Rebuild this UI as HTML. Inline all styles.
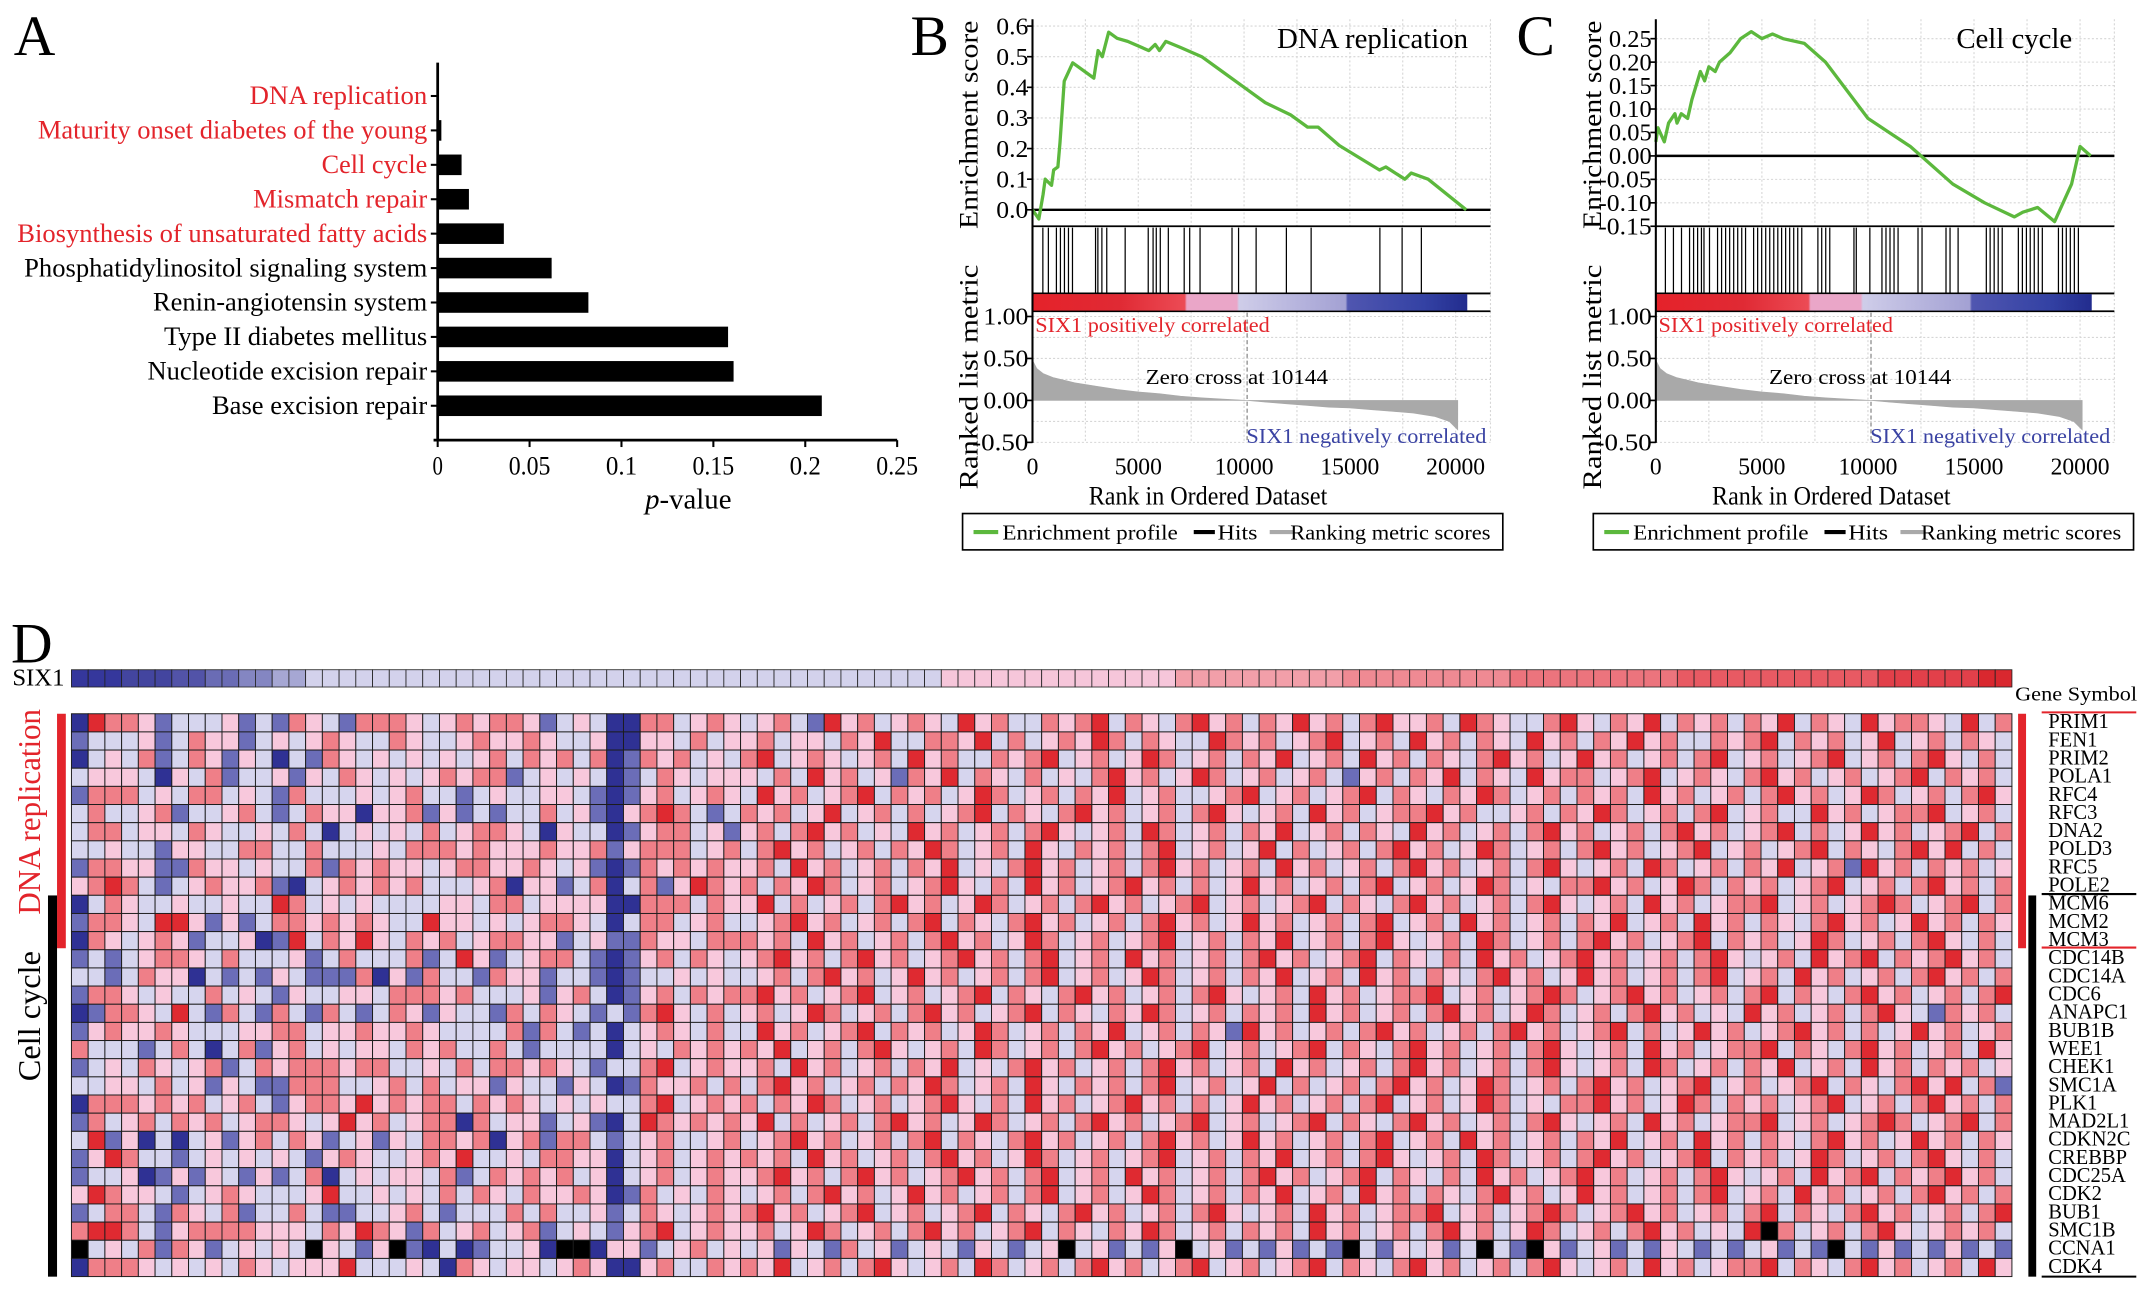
<!DOCTYPE html>
<html><head><meta charset="utf-8"><title>SIX1 GSEA figure</title>
<style>html,body{margin:0;padding:0;background:#fff;}svg{display:block;}text{font-family:"Liberation Serif",serif;}</style>
</head><body>
<svg id="fig" xmlns="http://www.w3.org/2000/svg" width="2150" height="1289" viewBox="0 0 1568 940" preserveAspectRatio="none">
<defs>
<linearGradient id="cbar" x1="0" x2="1" y1="0" y2="0">
<stop offset="0" stop-color="#e5222a"/><stop offset="0.2" stop-color="#e02a34"/><stop offset="0.35" stop-color="#ec4b55"/>
<stop offset="0.355" stop-color="#eaa6c8"/><stop offset="0.47" stop-color="#eaa6c8"/><stop offset="0.475" stop-color="#cfcde9"/>
<stop offset="0.6" stop-color="#b8b6de"/><stop offset="0.72" stop-color="#a3a1d3"/><stop offset="0.725" stop-color="#5056b0"/>
<stop offset="0.9" stop-color="#3442a4"/><stop offset="1" stop-color="#222c8e"/>
</linearGradient>
</defs>
</svg>
<script>
// ---------- Panel A data ----------
const aCategories=["DNA replication","Maturity onset diabetes of the young","Cell cycle","Mismatch repair","Biosynthesis of unsaturated fatty acids","Phosphatidylinositol signaling system","Renin-angiotensin system","Type II diabetes mellitus","Nucleotide excision repair","Base excision repair"];
const aValues=[0.0003,0.002,0.013,0.017,0.036,0.062,0.082,0.158,0.161,0.209];
const aHighlighted=[true,true,true,true,true,false,false,false,false,false];
const aTicks=[0,0.05,0.1,0.15,0.2,0.25];
const aTickLabels=["0","0.05","0.1","0.15","0.2","0.25"];
// ---------- Panel B data ----------
const bRanks=[0,300,500,600,900,1000,1200,1300,1500,1700,1900,2900,3100,3300,3600,4000,4500,5500,5800,6000,6300,7000,8000,9000,10000,11000,12200,13000,13500,14500,16400,16700,17600,17900,18700,20500];
const bES=[0,-0.03,0.05,0.1,0.08,0.13,0.14,0.22,0.42,0.45,0.48,0.43,0.52,0.5,0.58,0.56,0.55,0.52,0.54,0.52,0.55,0.53,0.5,0.45,0.4,0.35,0.31,0.27,0.27,0.21,0.13,0.14,0.1,0.12,0.1,0.0];
const bHits=[490,750,1130,1320,1510,1700,1890,2980,3090,3280,3510,4380,5470,5700,5850,6040,6420,7170,7430,7920,9430,9740,10570,12000,13170,16420,17470,18380];
const bESTicks=[0,0.1,0.2,0.3,0.4,0.5,0.6];
const bESTickLabels=["0.0","0.1","0.2","0.3","0.4","0.5","0.6"];
// ---------- Panel C data ----------
const cRanks=[0,100,400,600,900,1000,1200,1500,1700,2100,2300,2500,2800,3000,3500,4000,4500,5000,5500,6000,7000,8000,9000,10000,11000,12000,13000,14000,15500,16900,17300,18000,18800,19200,19600,20000,20500];
const cES=[0.03,0.06,0.03,0.07,0.09,0.07,0.09,0.08,0.12,0.18,0.16,0.19,0.18,0.2,0.22,0.25,0.265,0.25,0.26,0.25,0.24,0.2,0.14,0.08,0.05,0.02,-0.02,-0.06,-0.1,-0.13,-0.12,-0.11,-0.14,-0.1,-0.06,0.02,0.0];
const cHits=[450,830,1210,1590,1780,1970,2150,2270,2530,2910,3100,3290,3480,3670,3860,4050,4230,4610,4800,4990,5180,5370,5560,5750,5930,6120,6310,6500,6690,6880,7640,7820,8010,8200,9340,9450,10090,10660,10850,11040,11230,11420,12360,12550,13680,13870,14250,15580,15760,15950,16140,16330,17090,17280,17470,17650,17840,18030,18220,18980,19170,19350,19540,19730,19920];
const cESTicks=[-0.15,-0.1,-0.05,0,0.05,0.1,0.15,0.2,0.25];
const cESTickLabels=["-0.15","-0.10","-0.05","0.00","0.05","0.10","0.15","0.20","0.25"];
// ---------- Ranked list metric (shared) ----------
const mRanks=[0,200,500,1000,2000,3000,4000,5000,6000,7000,8000,9000,10144,11000,12000,13000,14000,15000,16000,17000,18000,19000,19700,20100];
const mValues=[0.48,0.38,0.32,0.27,0.21,0.17,0.13,0.1,0.08,0.05,0.03,0.015,0,-0.02,-0.04,-0.06,-0.08,-0.09,-0.11,-0.13,-0.15,-0.19,-0.25,-0.35];
const zeroCross=10144;
const metricTicks=[1,0.5,0,-0.5];
const metricTickLabels=["1.00","0.50","0.00","-0.50"];
const rankTicks=[0,5000,10000,15000,20000];
const rankTickLabels=["0","5000","10000","15000","20000"];
// ---------- Panel D data ----------
const genes=["PRIM1","FEN1","PRIM2","POLA1","RFC4","RFC3","DNA2","POLD3","RFC5","POLE2","MCM6","MCM2","MCM3","CDC14B","CDC14A","CDC6","ANAPC1","BUB1B","WEE1","CHEK1","SMC1A","PLK1","MAD2L1","CDKN2C","CREBBP","CDC25A","CDK2","BUB1","SMC1B","CCNA1","CDK4"];
const six1Levels="00011122334455 66666666666666666666666666666666666666 77777777777777 8888888888 9999999999 aaaaaaaaaa bbbbbbbbbbbb ccccccdd";
const hmRows=[
"0544312223 1214321444 3234344312 3200442343 2342153423 4325342243 4524324534 2435342453 3425432245 3243524342 4352432534 432524",
"1222312433 1232343224 3223433432 2300332423 3423324352 2443524234 3542432254 3423452342 5342432534 2435342243 4524342352 342432",
"0232412431 3202143232 3232342434 2401434232 4523432342 5342243452 3423542342 4352342534 2432453423 5342342452 3423452342 453242",
"2333203241 2231324323 2343441232 3201243233 3242534231 4352432423 2453423542 3423421342 4352432534 4234523432 4534234234 524342",
"1444232442 3214222323 4221232233 2101342343 2534234524 3423542342 4352342234 5234234524 3243542342 4342534234 2453423542 342453",
"2422341223 4212433033 4131212242 3103454212 4342352342 4234524324 5342342453 2342534234 4534223424 3542342452 3422534234 452342",
"2442332432 2324202323 2423443203 2201344231 3424534232 5342342453 2342542342 4352342432 5342342453 4234245342 3452423534 234524",
"2232213322 4422422232 4443433343 3413444234 2453423424 3542342532 4342452342 3524234245 3423542342 4534234523 4234524324 535242",
"1443311433 2322414343 3234433432 3101434343 3425342342 4352324534 2342453423 4253423424 5342342453 2342542342 4352341534 243423",
"3454212343 3410234343 4222340331 2402413543 4243542342 3453242534 2345342423 5342342452 3423542324 4534235424 3423452342 453424",
"0243223223 2254232322 2233244233 3300444243 3524234245 3423542342 4534234523 4234524324 5342342453 2342534234 4523423454 234524",
"1443255313 1244343432 2533232344 3202442342 2345342342 4524324534 2342453423 5342342452 3425342342 4352342534 2432453423 534243",
"0432343122 3015243532 4342344331 2311433244 4342534234 2453423542 3423452342 4352342453 2342542342 4534234524 3423542342 453242",
"1212344324 2223124222 4125312344 2101342432 3453424534 2345342452 3425342342 4534234524 3242534234 5342342453 2342534524 345342",
"2212433021 2132111403 1422143312 2101223232 2342453423 5342342452 3423542342 4352342534 2432453423 5342342452 3425342342 453424",
"1443232242 3213223324 4434222313 4201342434 4534234523 4234524324 5342342453 2342534234 4523423454 2345342342 4524324534 234245",
"0144325214 2142142124 3132214243 2121453242 3423542342 4534234524 3243542342 4342534234 2453423542 3424534232 5342342453 214342",
"1343343222 3344233433 4322224142 1202343242 2534234524 3423542342 4352342431 5342342453 4234245342 3452423534 2345342423 534234",
"4222124202 4134232332 4342242122 2202324343 4352342453 2342542342 4534234523 4234524324 5342342453 2342534234 4524324534 234253",
"1232432341 2434443442 2324244343 2122452343 3425342342 4352324534 2342453423 4253423424 5342342453 2342542342 4352342534 243423",
"2233242313 2114442234 2423313221 3201433424 2453423424 3542342532 4342452342 3524234245 3423542342 4534234523 4234524324 535241",
"0444343423 4213443534 3442434323 2322452343 4243542342 3453242534 2345342423 5342342452 3423542324 4534235424 3423452342 453424",
"1423424342 3443235342 3440423312 3102543434 3524234245 3423542342 4534234523 4234524324 5342342453 2342534234 4523423454 234524",
"2513020231 3424312313 2443403414 4212342234 2345342342 4524324534 2342453423 5342342452 3425342342 4352342534 2432453423 534243",
"1354221232 3232134322 3435223244 3302342343 4342534234 2453423542 3423452342 4352342453 2342542342 4534234524 3423542342 453242",
"1223013132 1312402323 3241243434 2302342343 3453424534 2345342452 3425342342 4534234524 3242534234 5342342453 2342534524 345342",
"3543321234 3222352232 3242432433 4301423243 2342453423 5342342452 3423542342 4352342534 2432453423 5342342452 3425342342 453424",
"1244214324 1224211223 4212224242 2312432343 4534234523 4234524324 5342342453 2342534234 4523423454 2345342342 4524324534 234245",
"4554213444 4333243543 1423423412 3213452343 3423542342 4534234524 3243542342 4342534234 2453423542 3424534232 5k42342453 234342",
"k232414312 3232k3213k 102012230k k033123423 2313214231 232132123k 231213k231 213121k213 2312k21k31 2312132121 23121k2131 213121",
"0444323232 4323335222 3204323323 4300342243 4352342453 2342542342 4534234523 4234524324 5342342453 2342534234 4524324534 234253"
];
</script>
<script>
const NS='http://www.w3.org/2000/svg';
const svg=document.getElementById('fig');
function mk(tag,attrs,parent,txt){const e=document.createElementNS(NS,tag);for(const k in attrs)e.setAttribute(k,attrs[k]);if(txt!==undefined)e.textContent=txt;(parent||svg).appendChild(e);return e;}
function grp(name){const g=mk('g',{});return g;}

// ================= Panel A =================
(function(){
const g=grp('panel-a');
const L=mk('text',{x:10,y:40,'font-size':42},g,'A');

const x0=319.2,x1=654.3,axisY=321,top=45.7;
const xs=v=>x0+(v/0.25)*(x1-x0);
const yc=i=>70+i*25.1;
const labelW=[129.5,284,77,127,299,294,200,192,204,157];
aCategories.forEach((c,i)=>{
  const w=xs(aValues[i])-x0;
  const r=mk('rect',{x:x0,y:yc(i)-7.5,width:Math.max(w,0.6),height:15,fill:'#000'},g);
  
  
  mk('line',{x1:x0-5,x2:x0,y1:yc(i),y2:yc(i),stroke:'#000','stroke-width':1.5},g);
  const t=mk('text',{x:311.6,y:yc(i)+6,'font-size':19,'text-anchor':'end',fill:aHighlighted[i]?'#e3242b':'#000',textLength:labelW[i],lengthAdjust:'spacingAndGlyphs'},g,c);
  
});
const ya=mk('line',{x1:x0,x2:x0,y1:top,y2:axisY,stroke:'#000','stroke-width':2},g);

const xa=mk('line',{x1:x0-3,x2:x1,y1:axisY,y2:axisY,stroke:'#000','stroke-width':2},g);

aTicks.forEach((v,i)=>{
  mk('line',{x1:xs(v),x2:xs(v),y1:axisY,y2:axisY+5,stroke:'#000','stroke-width':1.5},g);
  const t=mk('text',{x:xs(v),y:346,'font-size':19,'text-anchor':'middle',textLength:aTickLabels[i].length*7.6,lengthAdjust:'spacingAndGlyphs'},g,aTickLabels[i]);
  
});
const xt=mk('text',{x:502,y:371,'font-size':21,'text-anchor':'middle'},g);

mk('tspan',{'font-style':'italic'},xt,'p');mk('tspan',{},xt,'-value');
})();

// ================= Panels B / C =================
function gsea(o){
const g=grp(o.name);
const px0=o.px0,pxR=o.pxR,k=o.k;
const X=r=>px0+r*k;
const YE=o.ye;
const YM=m=>292-m*61.2;
const top=14,bot=323;
const L=mk('text',{x:o.letterX,y:40,'font-size':42},g,o.letter);

for(let r=0;r<=22500;r+=2500){const xx=X(r);if(xx>pxR)break;mk('line',{x1:xx,x2:xx,y1:top,y2:165,stroke:'#d6d6d6','stroke-width':0.8,'stroke-dasharray':'1.5,1.5'},g);mk('line',{x1:xx,x2:xx,y1:227,y2:bot,stroke:'#d6d6d6','stroke-width':0.8,'stroke-dasharray':'1.5,1.5'},g);}
mk('line',{x1:pxR,x2:pxR,y1:top,y2:bot,stroke:'#d6d6d6','stroke-width':0.8,'stroke-dasharray':'1.5,1.5'},g);
o.esTicks.forEach(v=>mk('line',{x1:px0,x2:pxR,y1:YE(v),y2:YE(v),stroke:'#d6d6d6','stroke-width':0.8,'stroke-dasharray':'1.5,1.5'},g));
[1,0.75,0.5,0.25,-0.25,-0.5].forEach(v=>mk('line',{x1:px0,x2:pxR,y1:YM(v),y2:YM(v),stroke:'#d6d6d6','stroke-width':0.8,'stroke-dasharray':'1.5,1.5'},g));
o.esTicks.forEach((v,i)=>{
  mk('line',{x1:px0-4,x2:px0,y1:YE(v),y2:YE(v),stroke:'#000','stroke-width':1.2},g);
  const t=mk('text',{x:px0-3,y:YE(v)+6,'font-size':18,'text-anchor':'end',textLength:o.esLabels[i].length*7.8,lengthAdjust:'spacingAndGlyphs'},g,o.esLabels[i]);
  
});
const zl=mk('line',{x1:px0,x2:pxR,y1:YE(0),y2:YE(0),stroke:'#000','stroke-width':1.8},g);

const pts=o.ranks.map((r,i)=>X(r).toFixed(2)+','+YE(o.es[i]).toFixed(2)).join(' ');
const cu=mk('polyline',{points:pts,fill:'none',stroke:'#5cb83d','stroke-width':2.4,'stroke-linejoin':'round'},g);

[165,214,227].forEach(yy=>mk('line',{x1:px0,x2:pxR,y1:yy,y2:yy,stroke:'#000','stroke-width':1.3},g));
o.hits.forEach(r=>{const h=mk('line',{x1:X(r),x2:X(r),y1:166,y2:214,stroke:'#000','stroke-width':0.9},g);
  });
const cb=mk('rect',{x:px0,y:214.5,width:X(20550)-px0,height:12,fill:'url(#cbar)'},g);

let mp='M'+X(mRanks[0])+','+YM(0);
mRanks.forEach((r,i)=>{mp+=' L'+X(r).toFixed(2)+','+YM(mValues[i]).toFixed(2);});
mp+=' L'+X(mRanks[mRanks.length-1])+','+YM(0)+' Z';
const ma=mk('path',{d:mp,fill:'#a9a9a9',stroke:'#a9a9a9','stroke-width':0.5},g);

const zc=mk('line',{x1:X(zeroCross),x2:X(zeroCross),y1:228,y2:bot,stroke:'#777','stroke-width':0.8,'stroke-dasharray':'3,2'},g);

metricTicks.forEach((v,i)=>{
  mk('line',{x1:px0-4,x2:px0,y1:YM(v),y2:YM(v),stroke:'#000','stroke-width':1.2},g);
  const t=mk('text',{x:px0-3,y:YM(v)+6,'font-size':18,'text-anchor':'end',textLength:metricTickLabels[i].length*8.2,lengthAdjust:'spacingAndGlyphs'},g,metricTickLabels[i]);
  
});
const la=mk('line',{x1:px0,x2:px0,y1:top,y2:bot,stroke:'#000','stroke-width':1.5},g);

rankTicks.forEach((r,i)=>{
  const t=mk('text',{x:X(r),y:346,'font-size':18,'text-anchor':'middle',textLength:rankTickLabels[i].length*8.6,lengthAdjust:'spacingAndGlyphs'},g,rankTickLabels[i]);
  
});
const xt=mk('text',{x:px0+128,y:368,'font-size':19,'text-anchor':'middle',textLength:174,lengthAdjust:'spacingAndGlyphs'},g,'Rank in Ordered Dataset');

const e1=mk('text',{x:0,y:0,'font-size':19,'text-anchor':'middle',transform:'translate('+(px0-40)+',91) rotate(-90)',textLength:152,lengthAdjust:'spacingAndGlyphs'},g,'Enrichment score');

const e2=mk('text',{x:0,y:0,'font-size':19,'text-anchor':'middle',transform:'translate('+(px0-40)+',275) rotate(-90)',textLength:164,lengthAdjust:'spacingAndGlyphs'},g,'Ranked list metric');

const ti=mk('text',{x:o.titleX,y:35,'font-size':21,'text-anchor':'middle'},g,o.title);

const p1=mk('text',{x:px0+2,y:242,'font-size':15,fill:'#e3242b',textLength:171,lengthAdjust:'spacingAndGlyphs'},g,'SIX1 positively correlated');

const p2=mk('text',{x:pxR-3,y:323,'font-size':15,fill:'#3a43a3','text-anchor':'end',textLength:175,lengthAdjust:'spacingAndGlyphs'},g,'SIX1 negatively correlated');

const zt=mk('text',{x:px0+149,y:280,'font-size':15,'text-anchor':'middle',textLength:133,lengthAdjust:'spacingAndGlyphs'},g,'Zero cross at 10144');

const lx=o.legX;
const lg=mk('g',{},g);
mk('rect',{x:lx,y:374.5,width:394,height:26.5,fill:'#fff',stroke:'#000','stroke-width':1.2},lg);
const items=[['#5cb83d',8,26,29,128,'Enrichment profile'],['#000',168.6,184,186,29,'Hits'],['#a9a9a9',224,241,239,146,'Ranking metric scores']];
items.forEach(it=>{
  const e=mk('g',{},lg);
  mk('line',{x1:lx+it[1],x2:lx+it[2],y1:388,y2:388,stroke:it[0],'stroke-width':3},e);
  mk('text',{x:lx+it[3],y:393.5,'font-size':15.5,textLength:it[4],lengthAdjust:'spacingAndGlyphs'},e,it[5]);
});
}
gsea({name:'panel-b',letter:'B',letterX:664,px0:753,pxR:1087,k:15.43/1000,ye:v=>153-v*223.3,esTicks:bESTicks,esLabels:bESTickLabels,ranks:bRanks,es:bES,hits:bHits,title:'DNA replication',titleX:1001,legX:702});
gsea({name:'panel-c',letter:'C',letterX:1106,px0:1207.6,pxR:1542,k:15.47/1000,ye:v=>113.7-v*342,esTicks:cESTicks,esLabels:cESTickLabels,ranks:cRanks,es:cES,hits:cHits,title:'Cell cycle',titleX:1469,legX:1162});

// ================= Panel D =================
(function(){
const g=grp('panel-d');
const L=mk('text',{x:8,y:483,'font-size':42},g,'D');

const hx=52.1,hy=520.5,cw=12.2,rh=13.24,ncol=116;
const pal={'0':'#2f3194','1':'#6b6db8','2':'#d6d5ee','3':'#f8c8dc','4':'#ef7f88','5':'#df2a31','k':'#000'};
const spal={'0':'#35379c','1':'#43459f','2':'#5253a8','3':'#6a6cb5','4':'#8486c2','5':'#a6a7d3','6':'#d3d2ec','7':'#f6c6da','8':'#f29fa9','9':'#ef8a93','a':'#ec747d','b':'#e85a63','c':'#e2404a','d':'#d9282f'};
const sl=six1Levels.replace(/ /g,'');
const sg=mk('g',{},g);
for(let c=0;c<ncol;c++){
  const ch=sl[c]||'6';
  const r=mk('rect',{x:hx+c*cw,y:488.4,width:cw,height:12.6,fill:spal[ch],stroke:'#222','stroke-width':0.6},sg);
  
}
const st=mk('text',{x:9,y:500,'font-size':18},g,'SIX1');

const hg=mk('g',{},g);
hmRows.forEach((row,ri)=>{
  const s=row.replace(/ /g,'');
  for(let c=0;c<ncol;c++){
    const ch=s[c]||'3';
    const r=mk('rect',{x:hx+c*cw,y:hy+ri*rh,width:cw,height:rh,fill:pal[ch],stroke:'#1c1c1c','stroke-width':0.7},hg);
    
  }
  const t=mk('text',{x:1493.8,y:hy+ri*rh+10.5,'font-size':15},g,genes[ri]);
  
});
const gs=mk('text',{x:1469.6,y:511,'font-size':14.5,textLength:89,lengthAdjust:'spacingAndGlyphs'},g,'Gene Symbol');

const rb=mk('rect',{x:41.6,y:520.5,width:6.4,height:171,fill:'#e3242b'},g);

const bb=mk('rect',{x:35,y:653,width:6.6,height:278,fill:'#000'},g);

const dt=mk('text',{x:0,y:0,'font-size':23,fill:'#e3242b','text-anchor':'middle',transform:'translate(29,592) rotate(-90)',textLength:150,lengthAdjust:'spacingAndGlyphs'},g,'DNA replication');

const ct=mk('text',{x:0,y:0,'font-size':23,'text-anchor':'middle',transform:'translate(29,741) rotate(-90)',textLength:95,lengthAdjust:'spacingAndGlyphs'},g,'Cell cycle');

const rr=mk('rect',{x:1471.8,y:520.5,width:5.8,height:171,fill:'#e3242b'},g);

const br=mk('rect',{x:1479.3,y:653,width:5.7,height:278,fill:'#000'},g);

mk('line',{x1:1489,x2:1558,y1:519.5,y2:519.5,stroke:'#e3242b','stroke-width':1.5},g);
mk('line',{x1:1489,x2:1558,y1:652,y2:652,stroke:'#000','stroke-width':1.5},g);
mk('line',{x1:1489,x2:1558,y1:691,y2:691,stroke:'#e3242b','stroke-width':1.5},g);
mk('line',{x1:1489,x2:1558,y1:931,y2:931,stroke:'#000','stroke-width':1.5},g);
})();
</script>
</body></html>
